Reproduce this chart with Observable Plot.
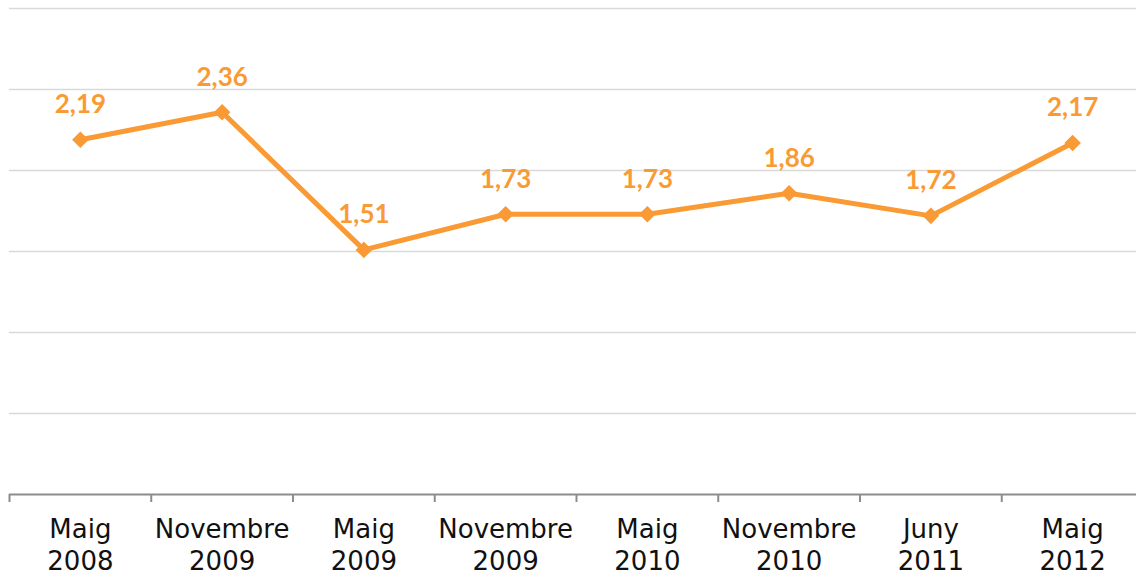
<!DOCTYPE html>
<html>
<head>
<meta charset="utf-8">
<script src="https://cdn.jsdelivr.net/npm/d3@7"></script>
<script src="https://cdn.jsdelivr.net/npm/@observablehq/plot@0.6"></script>
<style>
  html, body { margin: 0; padding: 0; background: #fff; overflow: hidden; }
  svg { overflow: hidden; }
</style>
</head>
<body>
<div id="chart"></div>
<script>
const periods = ["Maig\n2008", "Novembre\n2009", "Maig\n2009", "Novembre\n2009", "Maig\n2010", "Novembre\n2010", "Juny\n2011", "Maig\n2012"];
const values = [2.19, 2.36, 1.51, 1.73, 1.73, 1.86, 1.72, 2.17];
const yTicks = [0.5, 1, 1.5, 2, 2.5, 3];

const orange = "#FA9A35";
const data = periods.map((p, i) => ({i, p, v: values[i]}));
const fmt = v => v.toFixed(2).replace(".", ",");
const centers = data.map(d => d.i + 0.5);
const bounds = d3.range(periods.length + 1);

const chart = Plot.plot({
  width: 1136,
  height: 581,
  marginLeft: 9,
  marginRight: -7,
  marginTop: 8,
  marginBottom: 87,
  style: {fontFamily: "DejaVu Sans", background: "#fff"},
  x: {type: "linear", domain: [0, periods.length], axis: null},
  y: {domain: [0, 3], axis: null},
  marks: [
    Plot.ruleY(yTicks, {stroke: "#d9d9d9", strokeWidth: 1.5}),
    Plot.ruleY([0], {stroke: "#8c8c8c", strokeWidth: 2}),
    Plot.axisX({ticks: bounds, tickFormat: () => "", tickSize: 8, stroke: "#8c8c8c", strokeWidth: 2}),
    Plot.axisX({ticks: centers, tickFormat: c => periods[Math.round(c - 0.5)], tickSize: 0, tickPadding: 21,
      fontSize: 26, lineHeight: 1.23, fill: "#111", textStroke: "none"}),
    Plot.line(data, {x: d => d.i + 0.5, y: "v", stroke: orange, strokeWidth: 5}),
    Plot.dot(data, {x: d => d.i + 0.5, y: "v", symbol: "diamond2", r: 6.5, fill: orange, stroke: orange, strokeWidth: 1.5}),
    Plot.text(data, {x: d => d.i + 0.5, y: "v", text: d => fmt(d.v), dy: -35, fill: orange,
      fontFamily: "Lato", fontWeight: "bold", fontSize: 26})
  ]
});
document.getElementById("chart").appendChild(chart);
</script>
</body>
</html>
